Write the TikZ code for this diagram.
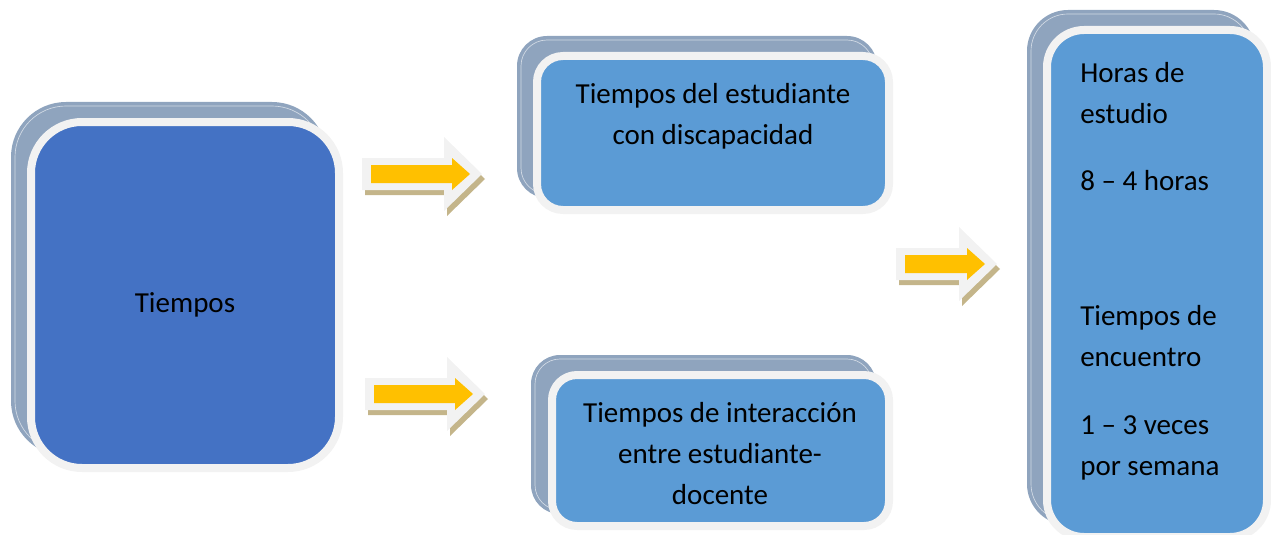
\documentclass[tikz,border=0pt]{standalone}
\usepackage{fontspec}
\setmainfont{Carlito}
\definecolor{backc}{RGB}{143,164,190}
\definecolor{borderc}{RGB}{242,242,242}
\definecolor{blueA}{RGB}{68,114,196}
\definecolor{blueB}{RGB}{91,155,213}
\definecolor{yel}{RGB}{255,192,0}
\definecolor{tan}{RGB}{196,181,138}
\newcommand\pxbox[7]{% name, style, x1, y1, x2, y2, radius(px)
  \pgfmathsetmacro\pxbw{(#5-#3)*0.75}%
  \pgfmathsetmacro\pxbh{(#6-#4)*0.75}%
  \pgfmathsetmacro\pxbr{#7*0.75}%
  \node[#2, minimum width=\pxbw pt, minimum height=\pxbh pt, rounded corners=\pxbr pt] (#1) at ({(#3+#5)/2},{(#4+#6)/2}) {};
}
\newcommand\hilite[2]{% node, radius(px)
  \pgfmathsetmacro\pxbr{(#2-4)*0.75}%
  \draw[hl, rounded corners=\pxbr pt] ([shift={(4,4)}]#1.north west) rectangle ([shift={(-4,-4)}]#1.south east);
}
\newcommand\bigarrow[3]{% x, y, length (px)
  \begin{scope}[shift={(#1,#2)}]
    \fill[arrowshadow, shift={(3,5)}] (0,-16) -- ({#3-38},-16) -- ({#3-38},-37) -- (#3,0) -- ({#3-38},37) -- ({#3-38},16) -- (0,16) -- cycle;
    \fill[arrowrim] (0,-16) -- ({#3-38},-16) -- ({#3-38},-37) -- (#3,0) -- ({#3-38},37) -- ({#3-38},16) -- (0,16) -- cycle;
    \fill[arrowcore] (9,-9) -- ({#3-30},-9) -- ({#3-30},-16) -- ({#3-12},0) -- ({#3-30},16) -- ({#3-30},9) -- (9,9) -- cycle;
  \end{scope}
}
\tikzset{
  backshape/.style={fill=backc, inner sep=0pt, outer sep=0pt},
  frontbox/.style={draw=borderc, line width=6pt, inner sep=0pt, outer sep=0pt},
  hl/.style={draw=white, opacity=0.6, line width=0.5pt},
  arrowshadow/.style={fill=tan},
  arrowrim/.style={fill=borderc},
  arrowcore/.style={fill=yel},
  txt/.style={font=\fontsize{21.75}{30.75}\selectfont, text=black, inner sep=0pt}
}
\begin{document}
\begin{tikzpicture}[x=0.75pt,y=-0.75pt]
\useasboundingbox (0,0) rectangle (1271,535);
% group 1
\pxbox{b1}{backshape}{11}{102}{327}{456}{55}
\hilite{b1}{55}
\pxbox{f1}{frontbox, fill=blueA}{31}{122}{339}{468}{51}
\node[txt, anchor=base] (t1) at (185,312) {Tiempos};
% group 2
\pxbox{b2}{backshape}{517}{36}{877}{198}{30}
\hilite{b2}{30}
\pxbox{f2}{frontbox, fill=blueB}{537}{56}{889}{210}{26}
\node[txt, anchor=base, align=center] (t2) at (713,144) {Tiempos del estudiante\\con discapacidad};
% group 3
\pxbox{b3}{backshape}{531}{355}{876}{514}{29}
\hilite{b3}{29}
\pxbox{f3}{frontbox, fill=blueB}{552}{375}{889}{526}{25}
\node[txt, anchor=base, align=center] (t3) at (720,504) {Tiempos de interacción\\entre estudiante-\\docente};
% group 4
\pxbox{b4}{backshape}{1027}{10}{1255}{525}{41}
\hilite{b4}{41}
\pxbox{f4}{frontbox, fill=blueB}{1047}{30}{1267}{537}{37}
\node[txt, anchor=base west, align=left] (t4) at (1080,475) {Horas de\\estudio\\[19.5pt]8 – 4 horas\\[70.5pt]Tiempos de\\encuentro\\[20.25pt]1 – 3 veces\\por semana};
% arrows
\bigarrow{362}{174}{120}
\bigarrow{365}{394}{120}
\bigarrow{896}{264}{101}
\end{tikzpicture}
\end{document}
